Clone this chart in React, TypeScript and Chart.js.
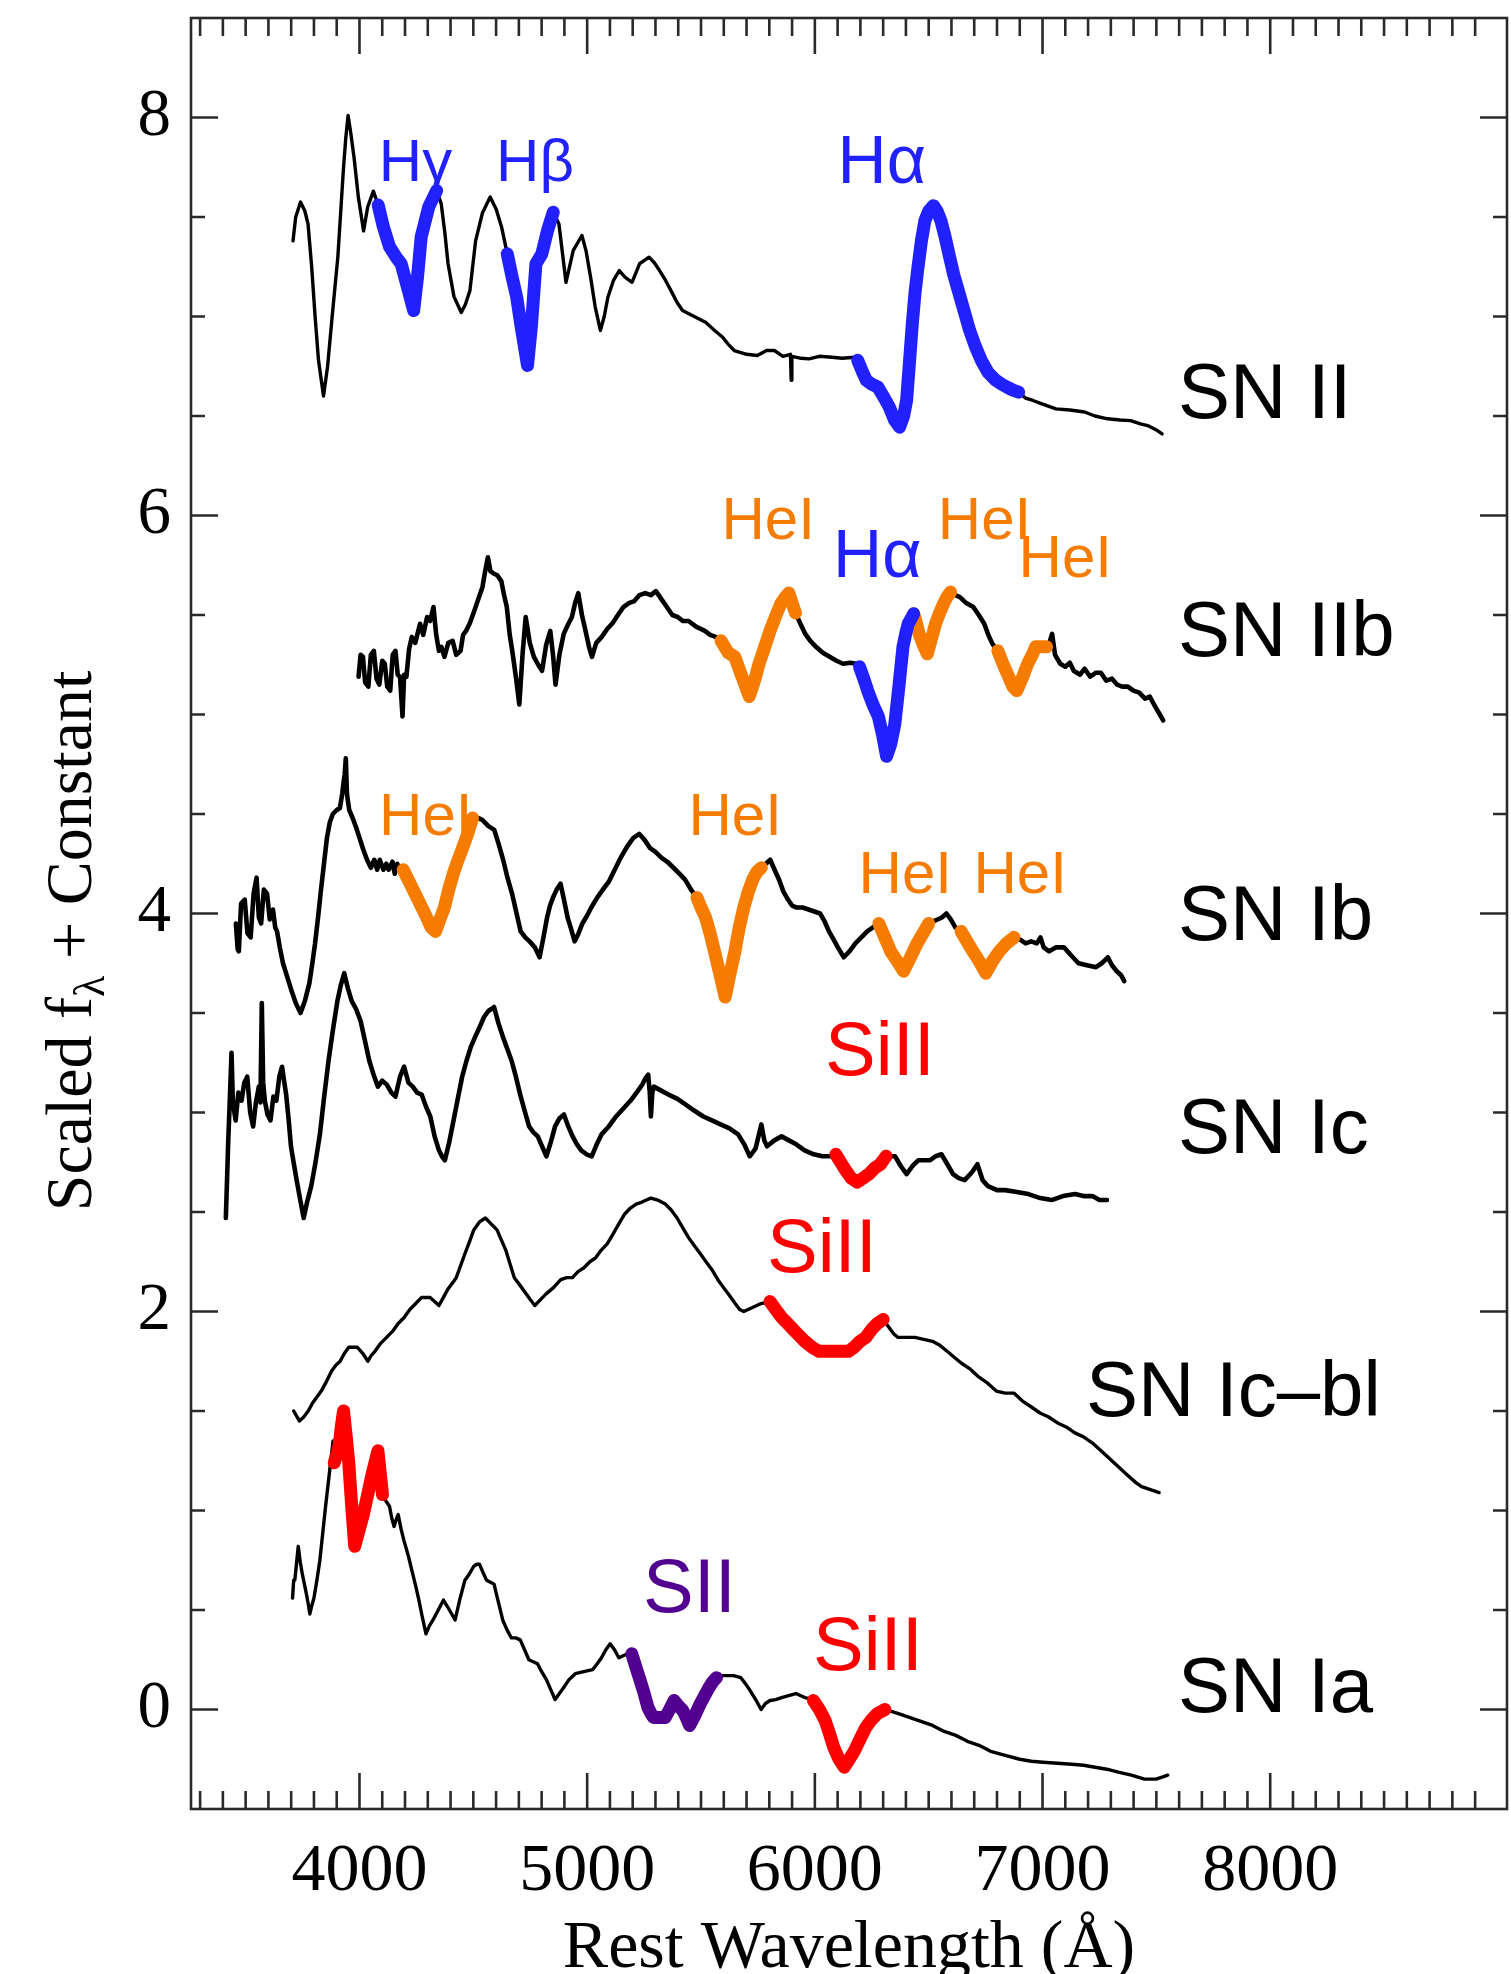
import React, { useEffect, useRef } from 'react';
import { Chart, registerables } from 'chart.js';

Chart.register(...registerables);

const W = 1511;
const H = 1974;

// ---------------- axis settings ----------------
const X_MIN = 3260;
const X_MAX = 9040;
const Y_MIN = -0.5;
const Y_MAX = 8.5;
const X_TICKS = [4000, 5000, 6000, 7000, 8000];
const Y_TICKS = [0, 2, 4, 6, 8];
const X_MINOR_FROM = 3300;
const X_MINOR_TO = 8900;
const X_MINOR_STEP = 100;
const Y_MINOR_STEP = 0.5;

// ---------------- SN II ----------------
const snII_wave = [3708, 3720, 3741, 3760, 3774, 3790, 3805, 3820, 3842, 3860, 3880, 3905, 3930, 3940, 3950, 3962, 3976, 3995, 4018, 4036, 4061, 4082, 4105, 4132, 4160, 4183, 4210, 4238, 4255, 4271, 4304, 4339, 4359, 4375, 4389, 4415, 4447, 4465, 4485, 4510, 4540, 4574, 4600, 4624, 4649, 4670, 4690, 4710, 4738, 4755, 4775, 4801, 4826, 4851, 4876, 4907, 4939, 4977, 4995, 5015, 5035, 5058, 5075, 5091, 5115, 5141, 5166, 5197, 5230, 5272, 5295, 5318, 5345, 5368, 5395, 5419, 5470, 5520, 5560, 5595, 5620, 5646, 5700, 5747, 5790, 5822, 5860, 5893, 5896, 5899, 5940, 5974, 6020, 6075, 6120, 6176, 6188, 6210, 6226, 6250, 6277, 6305, 6327, 6350, 6372, 6390, 6403, 6415, 6428, 6440, 6453, 6468, 6483, 6500, 6521, 6537, 6554, 6572, 6592, 6610, 6630, 6655, 6680, 6705, 6731, 6760, 6794, 6820, 6844, 6870, 6895, 6925, 6958, 7000, 7059, 7120, 7185, 7230, 7286, 7340, 7387, 7430, 7462, 7500, 7525];
const snII_flux = [7.38, 7.5, 7.575, 7.53, 7.465, 7.25, 7.0, 6.78, 6.6, 6.75, 7.0, 7.3, 7.75, 7.9, 8.01, 7.92, 7.8, 7.6, 7.43, 7.55, 7.63, 7.56, 7.45, 7.35, 7.3, 7.265, 7.15, 7.03, 7.2, 7.4, 7.55, 7.633, 7.566, 7.42, 7.265, 7.1, 7.02, 7.06, 7.13, 7.38, 7.52, 7.6, 7.54, 7.45, 7.315, 7.2, 7.1, 6.95, 6.754, 6.95, 7.265, 7.315, 7.432, 7.524, 7.465, 7.172, 7.332, 7.407, 7.33, 7.198, 7.05, 6.93, 7.0, 7.097, 7.18, 7.231, 7.198, 7.172, 7.265, 7.298, 7.27, 7.231, 7.18, 7.13, 7.07, 7.03, 7.0, 6.971, 6.93, 6.896, 6.86, 6.829, 6.81, 6.804, 6.83, 6.829, 6.8, 6.81, 6.68, 6.8, 6.79, 6.787, 6.8, 6.795, 6.79, 6.795, 6.78, 6.72, 6.68, 6.66, 6.645, 6.59, 6.545, 6.48, 6.444, 6.5, 6.578, 6.76, 6.963, 7.12, 7.248, 7.38, 7.48, 7.53, 7.557, 7.53, 7.48, 7.4, 7.298, 7.21, 7.13, 7.03, 6.93, 6.85, 6.78, 6.72, 6.68, 6.66, 6.645, 6.63, 6.62, 6.59, 6.578, 6.56, 6.536, 6.53, 6.52, 6.5, 6.486, 6.48, 6.477, 6.46, 6.452, 6.43, 6.41];
const snII_lines: [number, number, string][] = [[4082, 4339, 'H'], [4649, 4851, 'H'], [6188, 6895, 'H']];

// ---------------- SN IIb ----------------
const snIIb_wave = [3996, 4005, 4015, 4025, 4039, 4050, 4063, 4075, 4087, 4100, 4111, 4122, 4135, 4146, 4158, 4168, 4178, 4189, 4196, 4206, 4218, 4230, 4245, 4266, 4280, 4297, 4310, 4325, 4337, 4349, 4360, 4373, 4390, 4409, 4425, 4444, 4455, 4468, 4485, 4504, 4522, 4540, 4552, 4564, 4575, 4587, 4605, 4623, 4635, 4647, 4660, 4671, 4688, 4702, 4716, 4730, 4748, 4766, 4785, 4802, 4820, 4838, 4850, 4861, 4878, 4897, 4915, 4933, 4947, 4961, 4977, 4993, 5008, 5021, 5040, 5064, 5088, 5112, 5135, 5159, 5183, 5207, 5230, 5255, 5280, 5302, 5326, 5350, 5374, 5398, 5420, 5445, 5480, 5517, 5540, 5564, 5588, 5620, 5648, 5680, 5712, 5735, 5755, 5780, 5803, 5830, 5850, 5870, 5886, 5900, 5915, 5935, 5958, 5980, 6005, 6035, 6065, 6095, 6124, 6155, 6184, 6196, 6215, 6232, 6255, 6279, 6297, 6315, 6333, 6351, 6370, 6387, 6400, 6410, 6422, 6434, 6446, 6458, 6476, 6494, 6512, 6530, 6548, 6565, 6580, 6596, 6617, 6637, 6665, 6696, 6720, 6744, 6762, 6780, 6804, 6828, 6851, 6870, 6887, 6910, 6935, 6955, 6970, 6995, 7018, 7030, 7042, 7055, 7078, 7100, 7120, 7137, 7165, 7185, 7209, 7235, 7256, 7280, 7305, 7328, 7350, 7375, 7399, 7425, 7450, 7471, 7495, 7515, 7530];
const snIIb_flux = [5.19, 5.3, 5.29, 5.16, 5.14, 5.3, 5.32, 5.18, 5.15, 5.27, 5.255, 5.14, 5.12, 5.3, 5.32, 5.2, 5.19, 4.99, 5.2, 5.19, 5.33, 5.39, 5.36, 5.456, 5.4, 5.49, 5.47, 5.54, 5.4, 5.32, 5.34, 5.29, 5.36, 5.37, 5.3, 5.32, 5.4, 5.42, 5.46, 5.52, 5.58, 5.64, 5.72, 5.79, 5.72, 5.71, 5.7, 5.67, 5.6, 5.54, 5.4, 5.32, 5.18, 5.05, 5.3, 5.49, 5.36, 5.29, 5.25, 5.22, 5.35, 5.42, 5.3, 5.15, 5.3, 5.405, 5.45, 5.49, 5.56, 5.61, 5.5, 5.42, 5.34, 5.29, 5.36, 5.39, 5.43, 5.46, 5.5, 5.54, 5.56, 5.57, 5.6, 5.61, 5.6, 5.62, 5.58, 5.54, 5.5, 5.49, 5.47, 5.47, 5.44, 5.42, 5.4, 5.39, 5.37, 5.31, 5.29, 5.19, 5.09, 5.17, 5.255, 5.34, 5.42, 5.5, 5.556, 5.59, 5.61, 5.56, 5.51, 5.46, 5.405, 5.37, 5.34, 5.31, 5.29, 5.27, 5.255, 5.26, 5.255, 5.24, 5.18, 5.12, 5.05, 4.99, 4.9, 4.79, 4.85, 4.95, 5.15, 5.34, 5.41, 5.456, 5.48, 5.506, 5.46, 5.405, 5.35, 5.305, 5.38, 5.456, 5.51, 5.556, 5.59, 5.615, 5.6, 5.59, 5.56, 5.54, 5.5, 5.456, 5.4, 5.355, 5.32, 5.25, 5.19, 5.14, 5.12, 5.18, 5.255, 5.3, 5.34, 5.34, 5.34, 5.36, 5.405, 5.3, 5.255, 5.24, 5.26, 5.22, 5.2, 5.23, 5.19, 5.21, 5.21, 5.17, 5.18, 5.15, 5.14, 5.14, 5.12, 5.11, 5.08, 5.09, 5.04, 5.0, 4.97];
const snIIb_lines: [number, number, string][] = [[5588, 5915, 'He'], [6196, 6434, 'H'], [6434, 6596, 'He'], [6804, 7018, 'He']];

// ---------------- SN Ib ----------------
const snIb_wave = [3457, 3465, 3470, 3480, 3496, 3508, 3522, 3535, 3548, 3558, 3568, 3580, 3594, 3606, 3620, 3630, 3638, 3650, 3664, 3683, 3702, 3720, 3741, 3760, 3780, 3793, 3805, 3818, 3831, 3844, 3857, 3870, 3883, 3900, 3914, 3924, 3929, 3935, 3940, 3945, 3955, 3970, 3986, 4000, 4017, 4033, 4050, 4065, 4078, 4089, 4105, 4118, 4128, 4145, 4155, 4166, 4180, 4192, 4218, 4244, 4270, 4295, 4315, 4334, 4353, 4373, 4392, 4412, 4430, 4450, 4475, 4497, 4520, 4540, 4565, 4592, 4611, 4631, 4650, 4670, 4690, 4708, 4728, 4747, 4770, 4791, 4808, 4824, 4837, 4850, 4866, 4883, 4898, 4914, 4930, 4945, 4962, 4979, 5000, 5018, 5044, 5069, 5095, 5121, 5147, 5172, 5190, 5203, 5216, 5229, 5252, 5275, 5300, 5327, 5352, 5379, 5405, 5430, 5456, 5482, 5500, 5520, 5540, 5559, 5582, 5606, 5628, 5649, 5668, 5688, 5708, 5727, 5746, 5765, 5785, 5804, 5823, 5843, 5862, 5882, 5900, 5920, 5946, 5972, 5998, 6023, 6043, 6062, 6082, 6101, 6127, 6152, 6178, 6204, 6230, 6255, 6281, 6307, 6333, 6362, 6390, 6420, 6449, 6475, 6500, 6520, 6539, 6558, 6578, 6597, 6617, 6642, 6668, 6694, 6722, 6751, 6780, 6810, 6842, 6875, 6900, 6926, 6950, 6975, 6991, 7005, 7029, 7060, 7094, 7125, 7158, 7195, 7235, 7260, 7287, 7305, 7326, 7345, 7359];
const snIb_flux = [3.95, 3.82, 3.81, 4.05, 4.07, 3.9, 3.88, 4.1, 4.18, 3.98, 3.95, 4.12, 4.1, 3.97, 4.02, 3.93, 3.91, 3.83, 3.75, 3.68, 3.61, 3.55, 3.5, 3.56, 3.65, 3.75, 3.85, 3.98, 4.12, 4.25, 4.38, 4.46, 4.5, 4.52, 4.53, 4.6, 4.65, 4.7, 4.78, 4.6, 4.52, 4.48, 4.43, 4.38, 4.32, 4.27, 4.23, 4.27, 4.22, 4.27, 4.22, 4.25, 4.22, 4.26, 4.2, 4.25, 4.21, 4.22, 4.16, 4.1, 4.04, 3.98, 3.93, 3.91, 3.97, 4.03, 4.12, 4.2, 4.26, 4.32, 4.4, 4.48, 4.48, 4.47, 4.44, 4.42, 4.35, 4.27, 4.18, 4.1, 4.0, 3.91, 3.88, 3.86, 3.83, 3.78, 3.88, 3.98, 4.04, 4.08, 4.12, 4.15, 4.07, 3.98, 3.92, 3.86, 3.9, 3.95, 3.99, 4.03, 4.08, 4.12, 4.16, 4.22, 4.28, 4.33, 4.36, 4.38, 4.39, 4.4, 4.37, 4.33, 4.31, 4.28, 4.26, 4.23, 4.2, 4.17, 4.12, 4.08, 4.03, 3.98, 3.9, 3.81, 3.7, 3.58, 3.7, 3.81, 3.93, 4.03, 4.11, 4.17, 4.21, 4.23, 4.25, 4.27, 4.22, 4.17, 4.11, 4.07, 4.04, 4.03, 4.03, 4.02, 4.01, 4.0, 3.96, 3.91, 3.87, 3.83, 3.78, 3.81, 3.85, 3.88, 3.91, 3.93, 3.95, 3.88, 3.81, 3.76, 3.71, 3.78, 3.85, 3.9, 3.95, 3.96, 3.97, 3.98, 4.0, 3.97, 3.93, 3.91, 3.86, 3.81, 3.76, 3.7, 3.76, 3.81, 3.85, 3.88, 3.87, 3.85, 3.86, 3.85, 3.88, 3.83, 3.81, 3.83, 3.83, 3.79, 3.75, 3.74, 3.73, 3.75, 3.78, 3.74, 3.71, 3.69, 3.66];
const snIb_lines: [number, number, string][] = [[4192, 4497, 'He'], [5482, 5765, 'He'], [6281, 6500, 'He'], [6642, 6875, 'He']];

// ---------------- SN Ic ----------------
const snIc_wave = [3413, 3418, 3423, 3430, 3438, 3444, 3456, 3468, 3482, 3494, 3507, 3520, 3533, 3545, 3558, 3565, 3571, 3577, 3584, 3596, 3609, 3622, 3635, 3648, 3660, 3670, 3678, 3690, 3699, 3712, 3724, 3740, 3755, 3770, 3788, 3807, 3826, 3845, 3864, 3884, 3903, 3918, 3933, 3950, 3966, 3985, 4005, 4024, 4043, 4062, 4081, 4100, 4120, 4140, 4158, 4178, 4196, 4215, 4234, 4253, 4273, 4292, 4311, 4330, 4349, 4362, 4375, 4394, 4413, 4432, 4451, 4470, 4489, 4508, 4528, 4547, 4566, 4579, 4591, 4610, 4630, 4649, 4668, 4687, 4706, 4725, 4745, 4764, 4783, 4802, 4821, 4840, 4859, 4878, 4898, 4917, 4936, 4955, 4974, 4997, 5020, 5042, 5063, 5095, 5127, 5159, 5191, 5217, 5242, 5255, 5268, 5275, 5280, 5286, 5293, 5325, 5357, 5395, 5433, 5470, 5510, 5548, 5586, 5625, 5663, 5690, 5714, 5740, 5765, 5778, 5790, 5822, 5854, 5886, 5918, 5955, 5995, 6033, 6071, 6092, 6113, 6135, 6160, 6186, 6212, 6237, 6262, 6288, 6300, 6313, 6332, 6352, 6378, 6403, 6428, 6454, 6480, 6505, 6530, 6556, 6582, 6607, 6632, 6658, 6690, 6714, 6737, 6760, 6800, 6836, 6887, 6938, 6990, 7040, 7090, 7143, 7180, 7219, 7250, 7283];
const snIc_flux = [2.47, 2.65, 2.84, 3.05, 3.3, 3.05, 2.96, 3.1, 3.06, 3.15, 3.18, 3.0, 2.93, 3.05, 3.13, 3.05, 3.55, 3.15, 3.06, 2.99, 2.96, 3.08, 3.06, 3.18, 3.23, 3.15, 3.09, 2.95, 2.83, 2.74, 2.66, 2.56, 2.47, 2.55, 2.63, 2.75, 2.89, 3.08, 3.26, 3.42, 3.56, 3.64, 3.7, 3.62, 3.56, 3.52, 3.46, 3.36, 3.26, 3.19, 3.13, 3.16, 3.14, 3.1, 3.08, 3.18, 3.23, 3.15, 3.13, 3.1, 3.09, 3.03, 2.98, 2.88, 2.81, 2.78, 2.76, 2.85, 2.96, 3.07, 3.18, 3.26, 3.33, 3.38, 3.43, 3.48, 3.51, 3.52, 3.53, 3.45, 3.38, 3.32, 3.26, 3.18, 3.09, 3.01, 2.93, 2.9, 2.88, 2.83, 2.78, 2.85, 2.93, 2.97, 2.99, 2.93, 2.88, 2.84, 2.81, 2.79, 2.78, 2.84, 2.89, 2.93, 2.98, 3.02, 3.06, 3.1, 3.14, 3.17, 3.19, 3.1, 2.98, 3.1, 3.13, 3.11, 3.09, 3.07, 3.04, 3.01, 2.98, 2.96, 2.94, 2.92, 2.89, 2.84, 2.78, 2.82, 2.94, 2.86, 2.83, 2.86, 2.88, 2.86, 2.84, 2.81, 2.79, 2.78, 2.78, 2.79, 2.75, 2.71, 2.67, 2.65, 2.67, 2.69, 2.72, 2.74, 2.76, 2.78, 2.78, 2.78, 2.73, 2.69, 2.73, 2.76, 2.76, 2.76, 2.78, 2.79, 2.74, 2.69, 2.67, 2.66, 2.7, 2.74, 2.66, 2.63, 2.61, 2.61, 2.6, 2.59, 2.57, 2.56, 2.58, 2.59, 2.58, 2.58, 2.56, 2.56];
const snIc_lines: [number, number, string][] = [[6092, 6313, 'Si']];

// ---------------- SN Ic-bl ----------------
const snIcbl_wave = [3711, 3736, 3755, 3775, 3794, 3813, 3832, 3851, 3864, 3877, 3896, 3915, 3934, 3953, 3972, 3991, 4014, 4037, 4052, 4068, 4093, 4119, 4145, 4170, 4196, 4221, 4247, 4272, 4290, 4310, 4330, 4349, 4368, 4387, 4406, 4425, 4444, 4463, 4483, 4502, 4527, 4553, 4578, 4604, 4623, 4642, 4661, 4680, 4706, 4731, 4750, 4770, 4795, 4821, 4852, 4884, 4910, 4935, 4960, 4986, 5012, 5037, 5063, 5088, 5114, 5139, 5165, 5190, 5215, 5241, 5260, 5280, 5310, 5343, 5369, 5395, 5420, 5446, 5471, 5497, 5522, 5548, 5574, 5599, 5625, 5650, 5670, 5688, 5707, 5726, 5745, 5764, 5803, 5828, 5854, 5880, 5905, 5930, 5956, 5988, 6019, 6051, 6083, 6115, 6147, 6172, 6198, 6224, 6249, 6275, 6300, 6313, 6326, 6345, 6364, 6402, 6440, 6478, 6517, 6549, 6581, 6612, 6644, 6683, 6721, 6759, 6797, 6836, 6874, 6912, 6951, 6989, 7027, 7066, 7104, 7142, 7180, 7218, 7257, 7295, 7333, 7371, 7410, 7435, 7461, 7487, 7512];
const snIcbl_flux = [1.5, 1.45, 1.47, 1.5, 1.54, 1.57, 1.6, 1.64, 1.67, 1.7, 1.73, 1.75, 1.79, 1.82, 1.82, 1.82, 1.79, 1.75, 1.78, 1.8, 1.84, 1.87, 1.9, 1.94, 1.97, 2.01, 2.04, 2.07, 2.07, 2.07, 2.05, 2.03, 2.07, 2.11, 2.14, 2.17, 2.23, 2.29, 2.35, 2.41, 2.45, 2.47, 2.44, 2.41, 2.36, 2.31, 2.24, 2.17, 2.13, 2.09, 2.06, 2.03, 2.06, 2.09, 2.12, 2.16, 2.17, 2.17, 2.2, 2.22, 2.25, 2.27, 2.31, 2.34, 2.39, 2.44, 2.49, 2.52, 2.54, 2.55, 2.56, 2.57, 2.56, 2.54, 2.51, 2.47, 2.42, 2.37, 2.33, 2.29, 2.25, 2.21, 2.16, 2.12, 2.08, 2.04, 2.01, 2.0, 2.01, 2.02, 2.03, 2.04, 2.05, 2.01, 1.97, 1.94, 1.91, 1.88, 1.85, 1.82, 1.8, 1.8, 1.8, 1.8, 1.8, 1.82, 1.85, 1.87, 1.91, 1.94, 1.96, 1.94, 1.92, 1.89, 1.87, 1.87, 1.87, 1.86, 1.85, 1.83, 1.8, 1.77, 1.74, 1.71, 1.67, 1.64, 1.6, 1.59, 1.59, 1.55, 1.52, 1.49, 1.47, 1.44, 1.42, 1.39, 1.37, 1.34, 1.3, 1.26, 1.22, 1.18, 1.14, 1.12, 1.11, 1.1, 1.09];
const snIcbl_lines: [number, number, string][] = [[5803, 6300, 'Si']];

// ---------------- SN Ia ----------------
const snIa_wave = [3706, 3711, 3716, 3724, 3731, 3740, 3749, 3758, 3767, 3775, 3782, 3790, 3800, 3813, 3826, 3838, 3851, 3860, 3869, 3877, 3884, 3889, 3900, 3910, 3920, 3930, 3941, 3953, 3966, 3979, 3998, 4017, 4036, 4055, 4068, 4081, 4091, 4101, 4115, 4132, 4142, 4152, 4160, 4170, 4182, 4195, 4215, 4234, 4247, 4259, 4275, 4292, 4307, 4323, 4346, 4369, 4395, 4420, 4440, 4463, 4482, 4502, 4515, 4527, 4542, 4558, 4575, 4591, 4610, 4629, 4648, 4667, 4686, 4706, 4725, 4744, 4763, 4782, 4800, 4821, 4840, 4859, 4878, 4897, 4920, 4948, 4985, 5024, 5044, 5063, 5082, 5101, 5120, 5139, 5158, 5178, 5196, 5212, 5229, 5248, 5267, 5280, 5292, 5318, 5343, 5362, 5382, 5400, 5420, 5435, 5450, 5473, 5497, 5516, 5535, 5552, 5568, 5590, 5611, 5643, 5675, 5695, 5713, 5740, 5764, 5783, 5803, 5828, 5854, 5885, 5917, 5936, 5956, 5975, 5994, 6020, 6045, 6064, 6083, 6106, 6129, 6151, 6173, 6198, 6224, 6250, 6275, 6292, 6308, 6336, 6364, 6415, 6466, 6517, 6568, 6619, 6670, 6721, 6772, 6836, 6900, 6951, 7002, 7066, 7129, 7180, 7231, 7282, 7333, 7390, 7448, 7475, 7499, 7525, 7550];
const snIa_flux = [0.56, 0.65, 0.65, 0.74, 0.82, 0.74, 0.68, 0.63, 0.58, 0.53, 0.48, 0.52, 0.56, 0.65, 0.75, 0.88, 1.02, 1.11, 1.2, 1.28, 1.35, 1.24, 1.28, 1.32, 1.42, 1.5, 1.38, 1.24, 1.02, 0.82, 0.9, 0.98, 1.08, 1.18, 1.24, 1.3, 1.19, 1.08, 1.05, 1.02, 0.96, 0.92, 0.95, 0.98, 0.91, 0.85, 0.77, 0.68, 0.62, 0.56, 0.47, 0.38, 0.42, 0.45, 0.5, 0.55, 0.5, 0.45, 0.55, 0.65, 0.68, 0.72, 0.73, 0.73, 0.69, 0.65, 0.64, 0.63, 0.54, 0.45, 0.4, 0.36, 0.36, 0.35, 0.3, 0.25, 0.24, 0.23, 0.19, 0.15, 0.1, 0.05, 0.08, 0.11, 0.15, 0.18, 0.19, 0.2, 0.23, 0.26, 0.3, 0.33, 0.3, 0.26, 0.27, 0.28, 0.28, 0.22, 0.16, 0.09, 0.01, -0.02, -0.04, -0.04, -0.04, 0.0, 0.045, 0.02, -0.005, -0.04, -0.08, -0.03, 0.03, 0.07, 0.11, 0.14, 0.16, 0.17, 0.17, 0.17, 0.16, 0.13, 0.1, 0.05, 0.0, 0.03, 0.045, 0.05, 0.06, 0.07, 0.08, 0.07, 0.06, 0.055, 0.045, 0.0, -0.055, -0.12, -0.19, -0.25, -0.29, -0.25, -0.21, -0.15, -0.09, -0.05, -0.02, -0.01, 0.0, -0.01, -0.02, -0.04, -0.06, -0.08, -0.11, -0.13, -0.16, -0.18, -0.21, -0.23, -0.25, -0.26, -0.265, -0.27, -0.275, -0.28, -0.29, -0.3, -0.315, -0.33, -0.35, -0.35, -0.35, -0.34, -0.33];
const snIa_lines: [number, number, string][] = [[3889, 4101, 'Si'], [5196, 5568, 'S'], [5994, 6308, 'Si']];

// ---------------- labels ----------------
// [text, wavelength of left edge, flux of baseline, ion]
const LINE_LABELS: [string, number, number, string][] = [
  ['Hγ', 4085, 7.683, 'H'],
  ['Hβ', 4600, 7.683, 'H'],
  ['Hα', 6100, 7.673, 'H'],
  ['HeI', 5590, 5.884, 'He'],
  ['Hα', 6080, 5.693, 'H'],
  ['HeI', 6540, 5.884, 'He'],
  ['HeI', 6895, 5.693, 'He'],
  ['HeI', 4086, 4.392, 'He'],
  ['HeI', 5445, 4.392, 'He'],
  ['HeI', 6192, 4.101, 'He'],
  ['HeI', 6697, 4.101, 'He'],
  ['SiII', 6045, 3.186, 'Si'],
  ['SiII', 5790, 2.196, 'Si'],
  ['SII', 5245, 0.492, 'S'],
  ['SiII', 5992, 0.196, 'Si'],
];
const LINE_LABEL_SIZES: Record<string, number> = { 'Hγ': 60, 'Hβ': 60, 'Hα': 68, HeI: 60, SiII: 76, SII: 76 };

const SN_LABELS: [string, number, number][] = [
  ['SN II', 7595, 6.492],
  ['SN IIb', 7595, 5.296],
  ['SN Ib', 7595, 3.869],
  ['SN Ic', 7595, 2.794],
  ['SN Ic–bl', 7191, 1.477],
  ['SN Ia', 7595, -0.015],
];

const ION_COLORS: Record<string, string> = {
  H: '#2121ff',
  He: '#f57c00',
  Si: '#ff0000',
  S: '#52008f',
};

const SANS = '"Liberation Sans", Arial, Helvetica, sans-serif';
const SERIF = '"Liberation Serif", "Times New Roman", Times, serif';

const SPECTRA = [
  { wave: snII_wave, flux: snII_flux, lines: snII_lines, noisy: false },
  { wave: snIIb_wave, flux: snIIb_flux, lines: snIIb_lines, noisy: true },
  { wave: snIb_wave, flux: snIb_flux, lines: snIb_lines, noisy: true },
  { wave: snIc_wave, flux: snIc_flux, lines: snIc_lines, noisy: true },
  { wave: snIcbl_wave, flux: snIcbl_flux, lines: snIcbl_lines, noisy: false },
  { wave: snIa_wave, flux: snIa_flux, lines: snIa_lines, noisy: false },
];

function buildDatasets() {
  const ds: any[] = [];
  SPECTRA.forEach((s) => {
    const pts = s.wave.map((w, i) => ({ x: w, y: s.flux[i] }));
    ds.push({
      data: pts,
      borderColor: '#000',
      borderWidth: s.noisy ? 4.6 : 3.4,
      pointRadius: 0,
      tension: 0,
      fill: false,
      order: 1,
      borderJoinStyle: 'round',
      borderCapStyle: 'round',
    });
    s.lines.forEach(([a, b, ion]) => {
      ds.push({
        data: pts.filter((p) => p.x >= a && p.x <= b),
        borderColor: ION_COLORS[ion],
        borderWidth: 13,
        pointRadius: 0,
        tension: 0,
        fill: false,
        order: 0,
        borderJoinStyle: 'round',
        borderCapStyle: 'round',
      });
    });
  });
  return ds;
}

const framePlugin = {
  id: 'idlFrame',
  afterDraw(chart: any) {
    const { ctx, chartArea } = chart;
    const xs = chart.scales.x;
    const ys = chart.scales.y;
    const { left, right, top, bottom } = chartArea;
    ctx.save();
    ctx.strokeStyle = '#2a2a2a';
    ctx.lineWidth = 2.6;
    ctx.lineCap = 'butt';
    ctx.strokeRect(left, top, right - left, bottom - top);
    ctx.beginPath();
    for (let v = X_MINOR_FROM; v <= X_MINOR_TO; v += X_MINOR_STEP) {
      const px = xs.getPixelForValue(v);
      const len = X_TICKS.includes(v) ? 36 : 18;
      ctx.moveTo(px, bottom);
      ctx.lineTo(px, bottom - len);
      ctx.moveTo(px, top);
      ctx.lineTo(px, top + len);
    }
    for (let v = Y_MIN + Y_MINOR_STEP; v < Y_MAX - 1e-9; v += Y_MINOR_STEP) {
      const py = ys.getPixelForValue(v);
      const isMajor = Y_TICKS.some((t) => Math.abs(t - v) < 1e-6);
      const len = isMajor ? 27 : 14;
      ctx.moveTo(left, py);
      ctx.lineTo(left + len, py);
      ctx.moveTo(right, py);
      ctx.lineTo(right - len, py);
    }
    ctx.stroke();

    // axis titles
    ctx.fillStyle = '#000';
    ctx.textBaseline = 'alphabetic';
    ctx.textAlign = 'center';
    ctx.font = `68px ${SERIF}`;
    ctx.fillText('Rest Wavelength (Å)', (left + right) / 2, 1967);

    const f1 = `66px ${SERIF}`;
    const f2 = `44px ${SERIF}`;
    ctx.textAlign = 'left';
    ctx.font = f1;
    const t1 = 'Scaled f';
    const t3 = ' + Constant';
    const w1 = ctx.measureText(t1).width;
    const w3 = ctx.measureText(t3).width;
    ctx.font = f2;
    const w2 = ctx.measureText('λ').width;
    const total = w1 + w2 + w3;
    ctx.translate(91, 941 + total / 2);
    ctx.rotate(-Math.PI / 2);
    ctx.font = f1;
    ctx.fillText(t1, 0, 0);
    ctx.font = f2;
    ctx.fillText('λ', w1, 13);
    ctx.font = f1;
    ctx.fillText(t3, w1 + w2, 0);
    ctx.restore();

    // labels
    ctx.save();
    ctx.textAlign = 'left';
    ctx.textBaseline = 'alphabetic';
    LINE_LABELS.forEach(([txt, w, f, ion]) => {
      ctx.font = `${LINE_LABEL_SIZES[txt]}px ${SANS}`;
      ctx.fillStyle = ION_COLORS[ion];
      ctx.fillText(txt, xs.getPixelForValue(w), ys.getPixelForValue(f));
    });
    ctx.fillStyle = '#000';
    ctx.font = `78px ${SANS}`;
    SN_LABELS.forEach(([txt, w, f]) => {
      ctx.fillText(txt, xs.getPixelForValue(w), ys.getPixelForValue(f));
    });
    ctx.restore();
  },
};

export default function App() {
  const ref = useRef<HTMLCanvasElement | null>(null);
  useEffect(() => {
    if (!ref.current) return;
    const chart = new Chart(ref.current, {
      type: 'line',
      data: { datasets: buildDatasets() },
      options: {
        responsive: false,
        animation: false,
        devicePixelRatio: 1,
        events: [],
        layout: { padding: { top: 18, right: 4, left: 0, bottom: 0 } },
        plugins: { legend: { display: false }, tooltip: { enabled: false }, title: { display: false } },
        scales: {
          x: {
            type: 'linear',
            position: 'bottom',
            min: X_MIN,
            max: X_MAX,
            grid: { display: false, drawTicks: false },
            border: { display: false },
            afterBuildTicks: (scale: any) => {
              scale.ticks = X_TICKS.map((v) => ({ value: v }));
            },
            afterFit: (scale: any) => {
              scale.height = 165;
              scale.paddingLeft = 0;
              scale.paddingRight = 0;
            },
            ticks: {
              padding: 22,
              color: '#000',
              font: { family: SERIF, size: 68 },
              maxRotation: 0,
              autoSkip: false,
              callback: (v: any) => String(v),
            },
          },
          y: {
            type: 'linear',
            position: 'left',
            min: Y_MIN,
            max: Y_MAX,
            grid: { display: false, drawTicks: false },
            border: { display: false },
            afterBuildTicks: (scale: any) => {
              scale.ticks = Y_TICKS.map((v) => ({ value: v }));
            },
            afterFit: (scale: any) => {
              scale.width = 191;
              scale.paddingTop = 0;
              scale.paddingBottom = 0;
            },
            ticks: {
              padding: 20,
              color: '#000',
              font: { family: SERIF, size: 67 },
              autoSkip: false,
              callback: (v: any) => String(v),
            },
          },
        },
      } as any,
      plugins: [framePlugin],
    });
    return () => chart.destroy();
  }, []);
  return (
    <div style={{ position: 'absolute', left: 0, top: 0, width: W, height: H, background: '#fff' }}>
      <canvas ref={ref} width={W} height={H} style={{ width: W, height: H, display: 'block' }} />
    </div>
  );
}
